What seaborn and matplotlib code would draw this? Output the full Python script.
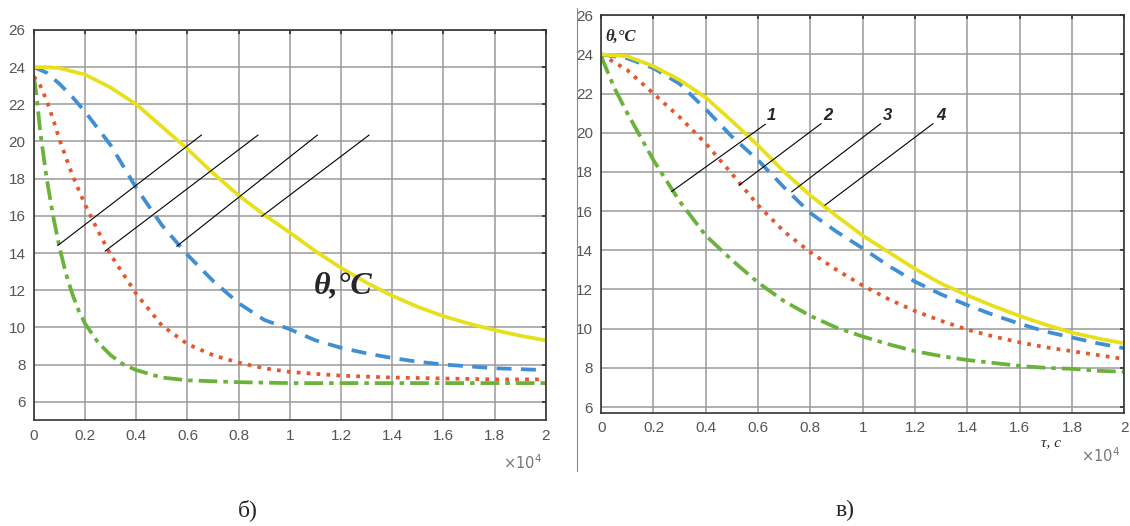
import numpy as np
import pandas as pd
import seaborn as sns
import matplotlib.pyplot as plt
from matplotlib.lines import Line2D

# ---- data (time in units of 1e4 s, temperature in degC) ----
# panel б)
b_tau_4 = [0, 0.05, 0.1, 0.2, 0.3, 0.4, 0.5, 0.6, 0.7, 0.8, 0.9, 1.0, 1.1, 1.2, 1.3, 1.4, 1.5, 1.6, 1.7, 1.8, 1.9, 2.0]
b_temp_4 = [24, 24, 23.95, 23.6, 22.9, 22.0, 20.8, 19.6, 18.3, 17.1, 16.05, 15.1, 14.1, 13.2, 12.4, 11.7, 11.1, 10.6, 10.2, 9.85, 9.55, 9.3]
b_tau_3 = [0, 0.05, 0.1, 0.15, 0.2, 0.3, 0.4, 0.5, 0.6, 0.7, 0.8, 0.9, 1.0, 1.1, 1.2, 1.3, 1.4, 1.5, 1.6, 1.7, 1.8, 1.9, 2.0]
b_temp_3 = [24, 23.7, 23.1, 22.4, 21.6, 19.8, 17.5, 15.5, 13.9, 12.5, 11.3, 10.4, 9.9, 9.3, 8.9, 8.6, 8.35, 8.15, 8.0, 7.9, 7.8, 7.75, 7.7]
b_tau_2 = [0, 0.025, 0.05, 0.075, 0.1, 0.15, 0.2, 0.25, 0.3, 0.4, 0.5, 0.6, 0.7, 0.8, 0.9, 1.0, 1.2, 1.4, 1.6, 1.8, 2.0]
b_temp_2 = [23.5, 23.0, 22.2, 21.2, 20.1, 18.2, 16.6, 15.2, 13.9, 11.8, 10.1, 9.1, 8.5, 8.1, 7.8, 7.6, 7.4, 7.3, 7.25, 7.2, 7.2]
b_tau_1 = [0, 0.01, 0.025, 0.05, 0.075, 0.1, 0.125, 0.15, 0.175, 0.2, 0.25, 0.3, 0.35, 0.4, 0.5, 0.6, 0.8, 1.0, 1.5, 2.0]
b_temp_1 = [23.5, 22.5, 20.5, 18.0, 16.0, 14.3, 12.9, 11.8, 10.9, 10.2, 9.2, 8.5, 8.0, 7.7, 7.3, 7.15, 7.05, 7.0, 7.0, 7.0]

# panel в)
v_tau = [0, 0.1, 0.2, 0.3, 0.4, 0.5, 0.6, 0.7, 0.8, 0.9, 1.0, 1.1, 1.2, 1.3, 1.4, 1.5, 1.6, 1.7, 1.8, 1.9, 2.0]
v_temp_4 = [24, 23.9, 23.4, 22.7, 21.8, 20.6, 19.35, 18.0, 16.8, 15.75, 14.75, 13.9, 13.05, 12.3, 11.7, 11.15, 10.65, 10.2, 9.8, 9.5, 9.25]
v_temp_3 = [24, 23.8, 23.3, 22.5, 21.2, 19.8, 18.6, 17.2, 15.9, 14.95, 14.1, 13.2, 12.4, 11.75, 11.2, 10.7, 10.25, 9.85, 9.55, 9.25, 9.0]
v_temp_2 = [24, 23.2, 22.0, 20.8, 19.45, 17.9, 16.3, 14.95, 13.9, 13.0, 12.2, 11.5, 10.9, 10.4, 9.95, 9.6, 9.3, 9.05, 8.85, 8.65, 8.45]
v_tau_1 = [0, 0.05, 0.1, 0.2, 0.3, 0.4, 0.5, 0.6, 0.7, 0.8, 0.9, 1.0, 1.1, 1.2, 1.3, 1.4, 1.5, 1.6, 1.7, 1.8, 1.9, 2.0]
v_temp_1 = [23.9, 22.3, 21.0, 18.6, 16.5, 14.75, 13.5, 12.35, 11.4, 10.65, 10.05, 9.6, 9.2, 8.85, 8.6, 8.4, 8.25, 8.1, 8.0, 7.95, 7.85, 7.8]

curve_labels = ['1', '2', '3', '4']
x_ticks = [0, 0.2, 0.4, 0.6, 0.8, 1, 1.2, 1.4, 1.6, 1.8, 2]
x_tick_labels = ['0', '0.2', '0.4', '0.6', '0.8', '1', '1.2', '1.4', '1.6', '1.8', '2']
y_ticks = [6, 8, 10, 12, 14, 16, 18, 20, 22, 24, 26]

colors = {'1': '#6ab23a', '2': '#e5582e', '3': '#3f8fd2', '4': '#e8e01c'}
styles = {'1': dict(dashes=(5, 1.6, 1.2, 1.6)), '2': dict(linestyle=':'),
          '3': dict(dashes=(4, 2.5)), '4': dict(linestyle='-')}

sns.set_theme(style='white')
plt.rcParams['font.family'] = ['Liberation Sans', 'DejaVu Sans']

fig = plt.figure(figsize=(11.3, 5.26), dpi=100)
ax_b = fig.add_axes([0.030, 0.201, 0.453, 0.742])
ax_v = fig.add_axes([0.532, 0.215, 0.463, 0.756])


def draw_curve(ax, tau, temp, key):
    df = pd.DataFrame({'tau': tau, 'temp': temp})
    sns.lineplot(data=df, x='tau', y='temp', ax=ax, color=colors[key], lw=2.7,
                 sort=False, **styles[key])


draw_curve(ax_b, b_tau_1, b_temp_1, '1')
draw_curve(ax_b, b_tau_2, b_temp_2, '2')
draw_curve(ax_b, b_tau_3, b_temp_3, '3')
draw_curve(ax_b, b_tau_4, b_temp_4, '4')

draw_curve(ax_v, v_tau_1, v_temp_1, '1')
draw_curve(ax_v, v_tau, v_temp_2, '2')
draw_curve(ax_v, v_tau, v_temp_3, '3')
draw_curve(ax_v, v_tau, v_temp_4, '4')

for ax, ybot in [(ax_b, 5.0), (ax_v, 5.7)]:
    ax.set_xlim(0, 2)
    ax.set_ylim(ybot, 26)
    ax.set_xticks(x_ticks)
    ax.set_xticklabels(x_tick_labels)
    ax.set_yticks(y_ticks)
    ax.set_xlabel('')
    ax.set_ylabel('')
    ax.grid(True, color='#9a9a9a', lw=1.1)
    ax.tick_params(axis='both', direction='in', length=3, labelsize=11,
                   labelcolor='#555555', color='#333333', top=True, right=True,
                   pad=6)
    for s in ax.spines.values():
        s.set_color('#333333')
        s.set_linewidth(1.2)
    ax.text(0.955, -0.085, r'$\times10^{4}$', transform=ax.transAxes,
            fontsize=10.5, color='#777777', ha='center', va='top')

# pointer lines, panel б)
b_ptr = [((0.093, 14.4), (0.655, 20.35)), ((0.278, 14.1), (0.876, 20.35)),
         ((0.558, 14.36), (1.108, 20.35)), ((0.89, 15.97), (1.31, 20.35))]
for (x0, y0), (x1, y1) in b_ptr:
    ax_b.plot([x0, x1], [y0, y1], color='black', lw=0.8)
ax_b.text(1.21, 12.25, 'θ,°C', fontsize=23, fontweight='bold', style='italic',
          family=['Liberation Serif', 'DejaVu Serif'], ha='center', va='center')

# pointer lines, panel в)
v_ptr = [((0.269, 17.0), (0.628, 20.44)), ((0.527, 17.32), (0.841, 20.47)),
         ((0.728, 16.98), (1.069, 20.47)), ((0.855, 16.3), (1.269, 20.47))]
v_lab_x = [0.652, 0.866, 1.094, 1.297]
for ((x0, y0), (x1, y1)), lx, lab in zip(v_ptr, v_lab_x, curve_labels):
    ax_v.plot([x0, x1], [y0, y1], color='black', lw=0.8)
    ax_v.text(lx, 20.9, lab, fontsize=12, fontweight='bold', style='italic',
              ha='center', va='center')
ax_v.text(0.018, 24.9, 'θ,°C', fontsize=12, fontweight='bold', style='italic',
          family=['Liberation Serif', 'DejaVu Serif'], ha='left', va='center')
ax_v.text(0.84, -0.075, 'τ, c', transform=ax_v.transAxes, fontsize=11,
          style='italic', family=['Liberation Serif', 'DejaVu Serif'],
          ha='left', va='center')

# thin frame line between panels
fig.add_artist(Line2D([0.511, 0.511], [0.105, 0.985], color='#888888', lw=0.8))

fig.text(0.219, 0.03, 'б)', fontsize=17, family=['Liberation Serif', 'DejaVu Serif'],
         ha='center', va='center')
fig.text(0.748, 0.03, 'в)', fontsize=17, family=['Liberation Serif', 'DejaVu Serif'],
         ha='center', va='center')

fig.savefig('out.png', dpi=100)
